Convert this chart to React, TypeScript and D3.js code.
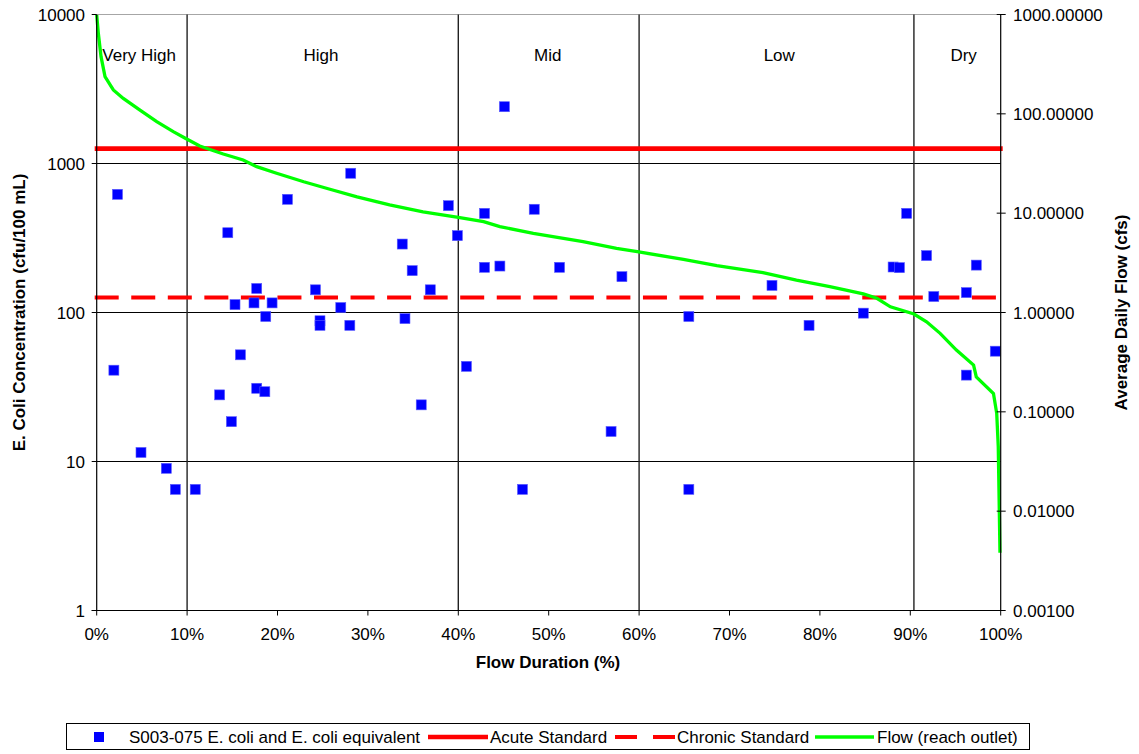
import React from "react";
import * as d3 from "d3";

// ---- Data ----
const sampleFlowPct = [
  2.3, 1.9, 4.9, 7.7, 8.7, 10.9, 13.6, 14.9, 14.5, 15.3, 15.9, 17.4, 17.7, 17.7, 18.6,
  18.7, 19.4, 21.1, 24.2, 24.7, 24.7, 27.0, 28.0, 28.1, 33.8, 34.1, 34.9, 35.9, 36.9,
  38.9, 39.9, 40.9, 42.9, 42.9, 44.6, 45.1, 47.1, 48.4, 51.2, 56.9, 58.1, 65.5, 65.5,
  74.7, 78.8, 84.8, 88.1, 88.8, 89.6, 91.8, 92.6, 96.2, 96.2, 97.3, 99.4,
];
const sampleEcoli = [
  621, 41, 11.5, 9, 6.5, 6.5, 28, 18.5, 343, 113, 52, 116, 145, 31, 29.4,
  94, 116, 575, 142, 88, 82, 108, 82, 860, 288, 91, 191, 24, 142,
  521, 328, 43.5, 463, 201, 205, 2405, 6.5, 493, 201, 15.9, 174, 94, 6.5,
  152, 82, 99, 202, 200, 463, 241, 128, 136, 38, 208, 55,
];

const flowPct = [
  0, 0.18, 0.48, 0.92, 1.84, 2.94, 4.79, 6.64, 8.47, 9.8, 11.4, 14.0, 16.2, 17.7, 19.9,
  22.9, 25.8, 28.8, 32.4, 36.1, 40.0, 42.8, 44.6, 48.3, 53.8, 57.5, 59.8, 64.9, 68.6,
  73.7, 77.4, 81.1, 84.8, 86.3, 87.8, 90.4, 91.8, 93.3, 95.1, 97.0, 97.3, 99.2, 99.56,
  99.73, 99.85, 99.92,
];
const flowCfs = [
  990, 647, 376, 237, 174, 143, 109, 83.4, 66.1, 56.7, 47.5, 39.4, 34.3, 29.4, 25.2,
  20.7, 17.4, 14.6, 12.1, 10.3, 9.08, 8.2, 7.31, 6.27, 5.16, 4.43, 4.09, 3.43, 2.96,
  2.52, 2.12, 1.82, 1.54, 1.39, 1.14, 0.966, 0.807, 0.617, 0.419, 0.296, 0.225, 0.153,
  0.0966, 0.0446, 0.0095, 0.00382,
];

const acuteStandard = 1260;
const chronicStandard = 126;

const zoneBounds = [10, 40, 60, 90.4];
const zoneNames = ["Very High", "High", "Mid", "Low", "Dry"];
const zoneLabelPct = [4.7, 24.8, 49.9, 75.5, 95.9];

const leftTicks = [1, 10, 100, 1000, 10000];
const rightTicks = [0.001, 0.01, 0.1, 1, 10, 100, 1000];
const xTicks = [0, 10, 20, 30, 40, 50, 60, 70, 80, 90, 100];

const FONT = "'Liberation Sans', Arial, sans-serif";

export default function App() {
  const W = 1139;
  const H = 754;
  const left = 96.7;
  const right = 1000.7;
  const top = 14.5;
  const bottom = 610.5;

  const x = d3.scaleLinear().domain([0, 100]).range([left, right]);
  const yL = d3.scaleLog().domain([1, 10000]).range([bottom, top]);
  const yR = d3.scaleLog().domain([0.001, 1000]).range([bottom, top]);

  const flowLine = d3
    .line<number>()
    .x((_, i) => x(flowPct[i]))
    .y((d) => yR(d))(flowCfs) as string;

  const fmtRight = (v: number) => v.toFixed(5);

  return (
    <svg
      width={W}
      height={H}
      style={{ position: "absolute", left: 0, top: 0, background: "#fff" }}
      fontFamily={FONT}
    >
      <defs>
        <clipPath id="plot">
          <rect x={left - 2} y={top} width={right - left + 4} height={bottom - top} />
        </clipPath>
      </defs>

      {/* top border */}
      <line x1={left} x2={right} y1={top} y2={top} stroke="#a6a6a6" strokeWidth={1.2} />

      {/* horizontal gridlines */}
      {leftTicks.slice(1, -1).map((t) => (
        <line key={t} x1={left} x2={right} y1={yL(t)} y2={yL(t)} stroke="#000" strokeWidth={1} />
      ))}

      {/* zone boundaries */}
      {zoneBounds.map((b) => (
        <line key={b} x1={x(b)} x2={x(b)} y1={top} y2={bottom} stroke="#222" strokeWidth={1.4} />
      ))}

      {/* zone labels */}
      {zoneNames.map((n, i) => (
        <text key={n} x={x(zoneLabelPct[i])} y={61} fontSize={17} textAnchor="middle" fill="#000">
          {n}
        </text>
      ))}

      {/* standards */}
      <line
        x1={left - 2}
        x2={right + 2}
        y1={yL(acuteStandard)}
        y2={yL(acuteStandard)}
        stroke="#ff0000"
        strokeWidth={4.7}
      />
      <line
        x1={left - 2}
        x2={right + 2}
        y1={yL(chronicStandard)}
        y2={yL(chronicStandard)}
        stroke="#ff0000"
        strokeWidth={4}
        strokeDasharray="24,12.55"
      />

      {/* flow */}
      <path d={flowLine} fill="none" stroke="#00ff00" strokeWidth={3.3} clipPath="url(#plot)" />

      {/* samples */}
      {sampleEcoli.map((v, i) => (
        <rect
          key={i}
          x={x(sampleFlowPct[i]) - 5}
          y={yL(v) - 5}
          width={10}
          height={10}
          fill="#0000ff"
          stroke="#5a5aff"
          strokeWidth={0.6}
        />
      ))}

      {/* axes */}
      <line x1={left} x2={left} y1={top} y2={bottom} stroke="#000" strokeWidth={1.2} />
      <line x1={right} x2={right} y1={top} y2={bottom} stroke="#000" strokeWidth={1.2} />
      <line x1={left - 5} x2={right} y1={bottom} y2={bottom} stroke="#000" strokeWidth={1.2} />

      {leftTicks.map((t) => (
        <g key={t}>
          <line x1={left - 5} x2={left} y1={yL(t)} y2={yL(t)} stroke="#000" />
          <text x={85} y={yL(t) + 6} fontSize={17} textAnchor="end" fill="#000">
            {t}
          </text>
        </g>
      ))}

      {rightTicks.map((t) => (
        <g key={t}>
          <line x1={right - 4} x2={right + 5} y1={yR(t)} y2={yR(t)} stroke="#000" />
          <text x={1013} y={yR(t) + 6} fontSize={17} textAnchor="start" fill="#000">
            {fmtRight(t)}
          </text>
        </g>
      ))}

      {xTicks.map((t) => (
        <g key={t}>
          <line x1={x(t)} x2={x(t)} y1={bottom} y2={bottom + 5} stroke="#000" />
          <text x={x(t)} y={640} fontSize={17} textAnchor="middle" fill="#000">
            {t}%
          </text>
        </g>
      ))}

      {/* axis titles */}
      <text
        transform={`translate(25,${(top + bottom) / 2}) rotate(-90)`}
        fontSize={17}
        fontWeight="bold"
        textAnchor="middle"
        fill="#000"
      >
        E. Coli Concentration (cfu/100 mL)
      </text>
      <text
        transform={`translate(1127,${(top + bottom) / 2}) rotate(-90)`}
        fontSize={17}
        fontWeight="bold"
        textAnchor="middle"
        fill="#000"
      >
        Average Daily Flow (cfs)
      </text>
      <text x={548} y={668} fontSize={17} fontWeight="bold" textAnchor="middle" fill="#000">
        Flow Duration (%)
      </text>

      {/* legend */}
      <rect x={66.5} y={723.5} width={963} height={26} fill="#fff" stroke="#000" strokeWidth={1} />
      <rect x={94} y={732} width={10} height={10} fill="#0000ff" />
      <text x={129} y={743} fontSize={17} fill="#000">
        S003-075 E. coli and E. coli equivalent
      </text>
      <line x1={428} x2={488} y1={737} y2={737} stroke="#ff0000" strokeWidth={4.7} />
      <text x={490} y={743} fontSize={17} fill="#000">
        Acute Standard
      </text>
      <line
        x1={615}
        x2={675}
        y1={737}
        y2={737}
        stroke="#ff0000"
        strokeWidth={4}
        strokeDasharray="22,16"
      />
      <text x={677} y={743} fontSize={17} fill="#000">
        Chronic Standard
      </text>
      <line x1={815} x2={874} y1={737} y2={737} stroke="#00ff00" strokeWidth={3.3} />
      <text x={877} y={743} fontSize={17} fill="#000">
        Flow (reach outlet)
      </text>
    </svg>
  );
}
